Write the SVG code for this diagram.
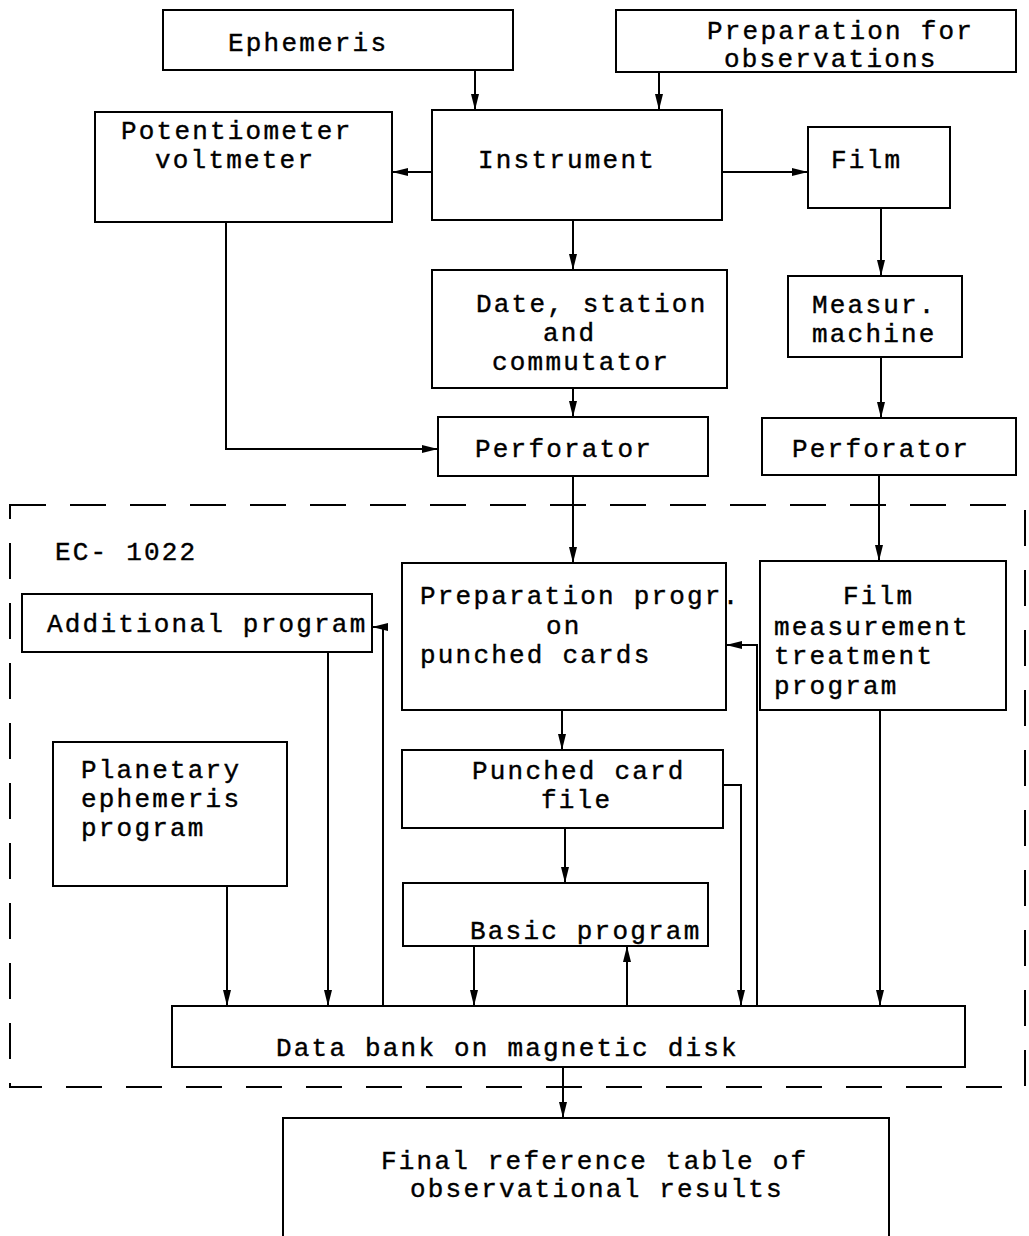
<svg xmlns="http://www.w3.org/2000/svg" width="1029" height="1236" viewBox="0 0 1029 1236">
<defs>
<style>
.box{fill:none;stroke:#000;stroke-width:2}
.ln{fill:none;stroke:#000;stroke-width:2}
.dash{fill:none;stroke:#000;stroke-width:2;stroke-dasharray:36 24}
text{font-family:"Liberation Mono","Courier New",monospace;font-size:26px;letter-spacing:2.2px;fill:#000;stroke:#000;stroke-width:0.4}
</style>
<marker id="ah" viewBox="0 0 16 8" refX="16" refY="4" markerWidth="16" markerHeight="8" markerUnits="userSpaceOnUse" orient="auto">
<path d="M0,0 L16,4 L0,8 Z" fill="#000"/>
</marker>
</defs>
<rect width="1029" height="1236" fill="#fff"/>

<g id="ec1022">
<rect class="dash" x="10" y="505" width="1015" height="582"/>
<text x="55" y="560">EC- 1022</text>
</g>

<g id="connectors">
<line class="ln" x1="475" y1="70" x2="475" y2="110" marker-end="url(#ah)"/>
<line class="ln" x1="659" y1="72" x2="659" y2="110" marker-end="url(#ah)"/>
<line class="ln" x1="432" y1="172" x2="392" y2="172" marker-end="url(#ah)"/>
<line class="ln" x1="722" y1="172" x2="808" y2="172" marker-end="url(#ah)"/>
<line class="ln" x1="573" y1="220" x2="573" y2="270" marker-end="url(#ah)"/>
<line class="ln" x1="881" y1="208" x2="881" y2="276" marker-end="url(#ah)"/>
<line class="ln" x1="573" y1="388" x2="573" y2="417" marker-end="url(#ah)"/>
<line class="ln" x1="881" y1="357" x2="881" y2="418" marker-end="url(#ah)"/>
<polyline class="ln" points="226,222 226,449 438,449" marker-end="url(#ah)"/>
<line class="ln" x1="573" y1="476" x2="573" y2="563" marker-end="url(#ah)"/>
<line class="ln" x1="879" y1="475" x2="879" y2="561" marker-end="url(#ah)"/>
<line class="ln" x1="328" y1="652" x2="328" y2="1006" marker-end="url(#ah)"/>
<polyline class="ln" points="383,1006 383,627 372,627" marker-end="url(#ah)"/>
<line class="ln" x1="562" y1="710" x2="562" y2="750" marker-end="url(#ah)"/>
<line class="ln" x1="565" y1="828" x2="565" y2="883" marker-end="url(#ah)"/>
<polyline class="ln" points="757,1006 757,645 726,645" marker-end="url(#ah)"/>
<polyline class="ln" points="723,785 741,785 741,1006" marker-end="url(#ah)"/>
<line class="ln" x1="474" y1="946" x2="474" y2="1006" marker-end="url(#ah)"/>
<line class="ln" x1="627" y1="1006" x2="627" y2="946" marker-end="url(#ah)"/>
<line class="ln" x1="227" y1="886" x2="227" y2="1006" marker-end="url(#ah)"/>
<line class="ln" x1="880" y1="710" x2="880" y2="1006" marker-end="url(#ah)"/>
<line class="ln" x1="563" y1="1067" x2="563" y2="1118" marker-end="url(#ah)"/>
</g>

<g id="ephemeris">
<rect class="box" x="163" y="10" width="350" height="60"/>
<text x="228" y="51">Ephemeris</text>
</g>
<g id="preparation">
<rect class="box" x="616" y="10" width="400" height="62"/>
<text x="707" y="39">Preparation for</text>
<text x="724" y="67">observations</text>
</g>
<g id="potentiometer">
<rect class="box" x="95" y="112" width="297" height="110"/>
<text x="121" y="139">Potentiometer</text>
<text x="155" y="168">voltmeter</text>
</g>
<g id="instrument">
<rect class="box" x="432" y="110" width="290" height="110"/>
<text x="478" y="168">Instrument</text>
</g>
<g id="film">
<rect class="box" x="808" y="127" width="142" height="81"/>
<text x="831" y="168">Film</text>
</g>
<g id="date">
<rect class="box" x="432" y="270" width="295" height="118"/>
<text x="476" y="312">Date, station</text>
<text x="543" y="341">and</text>
<text x="492" y="370">commutator</text>
</g>
<g id="measur">
<rect class="box" x="788" y="276" width="174" height="81"/>
<text x="812" y="313">Measur.</text>
<text x="812" y="342">machine</text>
</g>
<g id="perforator-left">
<rect class="box" x="438" y="417" width="270" height="59"/>
<text x="475" y="457">Perforator</text>
</g>
<g id="perforator-right">
<rect class="box" x="762" y="418" width="254" height="57"/>
<text x="792" y="457">Perforator</text>
</g>
<g id="additional">
<rect class="box" x="22" y="594" width="350" height="58"/>
<text x="47" y="632">Additional program</text>
</g>
<g id="prep-progr">
<rect class="box" x="402" y="563" width="324" height="147"/>
<text x="420" y="604">Preparation progr.</text>
<text x="546" y="634">on</text>
<text x="420" y="663">punched  cards</text>
</g>
<g id="film-measurement">
<rect class="box" x="760" y="561" width="246" height="149"/>
<text x="843" y="604">Film</text>
<text x="774" y="635">measurement</text>
<text x="774" y="664">treatment</text>
<text x="774" y="694">program</text>
</g>
<g id="planetary">
<rect class="box" x="53" y="742" width="234" height="144"/>
<text x="81" y="778">Planetary</text>
<text x="81" y="807">ephemeris</text>
<text x="81" y="836">program</text>
</g>
<g id="punched-card">
<rect class="box" x="402" y="750" width="321" height="78"/>
<text x="472" y="779">Punched card</text>
<text x="541" y="808">file</text>
</g>
<g id="basic">
<rect class="box" x="403" y="883" width="305" height="63"/>
<text x="470" y="939">Basic program</text>
</g>
<g id="databank">
<rect class="box" x="172" y="1006" width="793" height="61"/>
<text x="276" y="1056">Data bank on magnetic disk</text>
</g>
<g id="final">
<path class="box" d="M283,1236 L283,1118 L889,1118 L889,1236"/>
<text x="381" y="1169">Final reference table of</text>
<text x="410" y="1197">observational results</text>
</g>
</svg>
